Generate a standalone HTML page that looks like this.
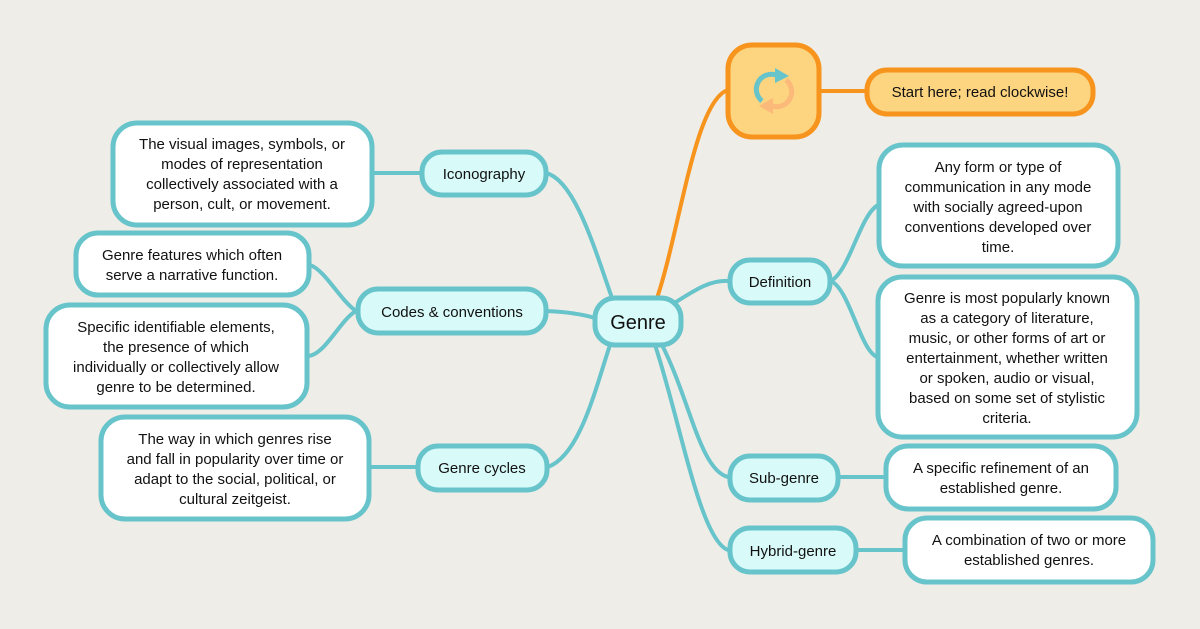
<!DOCTYPE html>
<html><head><meta charset="utf-8"><style>
html,body{margin:0;padding:0;background:#efede7;}
svg{display:block;}
text{font-family:"Liberation Sans",sans-serif;fill:#111;text-anchor:middle;}
</style></head><body>
<svg width="1200" height="629" viewBox="0 0 1200 629" xmlns="http://www.w3.org/2000/svg">
<rect width="1200" height="629" fill="#efede7"/>
<g fill="none" stroke="#68c4cb" stroke-width="4" stroke-linecap="round">
<path d="M546,173 C575,180 595,250 612,298"/>
<path d="M546,311 C570,312 585,315 595,318"/>
<path d="M548,467 C580,455 595,390 610,345"/>
<path d="M676,302 C695,290 710,280 728,281"/>
<path d="M662,345 C690,400 700,470 728,477"/>
<path d="M655,345 C680,420 700,540 728,550"/>
<path d="M831,281 C850,270 860,215 878,205"/>
<path d="M831,281 C850,290 860,350 877,357"/>
<path d="M839,477 L885,477"/>
<path d="M857,550 L904,550"/>
<path d="M373,173 L421,173"/>
<path d="M356,311 C340,300 325,270 310,265"/>
<path d="M356,311 C340,320 325,355 308,356"/>
<path d="M370,467 L417,467"/>
</g>
<g fill="none" stroke="#f7941d" stroke-width="4" stroke-linecap="round">
<path d="M657,298 C680,230 695,100 728,90"/>
<path d="M819,91 L865,91"/>
</g>
<rect x="728" y="45" width="91" height="92" rx="24" fill="#fdd47f" stroke="#f7941d" stroke-width="5"/>
<rect x="867" y="70" width="226" height="44" rx="20" fill="#fdd47f" stroke="#f7941d" stroke-width="5"/>
<text x="980" y="97" font-size="15">Start here; read clockwise!</text>
<g fill="none" stroke-width="5">
<path d="M762,101 A15,15 0 0 1 776,75" stroke="#68c4cb"/>
<path d="M786,80 A15,15 0 0 1 772,106" stroke="#fbb97a"/>
</g>
<polygon points="775,68 789,76 775,83" fill="#68c4cb"/>
<polygon points="773,98 759,106 773,114" fill="#fbb97a"/>
<g fill="#d8faf8" stroke="#68c4cb" stroke-width="5">
<rect x="595" y="298" width="86" height="47" rx="20"/>
<rect x="422" y="152" width="124" height="43" rx="20"/>
<rect x="358" y="289" width="188" height="44" rx="20"/>
<rect x="418" y="446" width="129" height="44" rx="20"/>
<rect x="730" y="260" width="100" height="43" rx="20"/>
<rect x="730" y="456" width="108" height="44" rx="20"/>
<rect x="730" y="528" width="126" height="44" rx="20"/>
</g>
<text x="638" y="329" font-size="20">Genre</text>
<text x="484" y="179" font-size="15">Iconography</text>
<text x="452" y="317" font-size="15">Codes &amp; conventions</text>
<text x="482" y="473" font-size="15">Genre cycles</text>
<text x="780" y="287" font-size="15">Definition</text>
<text x="784" y="483" font-size="15">Sub-genre</text>
<text x="793" y="556" font-size="15">Hybrid-genre</text>
<g fill="#ffffff" stroke="#68c4cb" stroke-width="5">
<rect x="113" y="123" width="259" height="102" rx="24"/>
<rect x="76" y="233" width="233" height="62" rx="22"/>
<rect x="46" y="305" width="261" height="102" rx="24"/>
<rect x="101" y="417" width="268" height="102" rx="24"/>
<rect x="879" y="145" width="239" height="121" rx="24"/>
<rect x="878" y="277" width="259" height="160" rx="24"/>
<rect x="886" y="446" width="230" height="63" rx="22"/>
<rect x="905" y="518" width="248" height="64" rx="22"/>
</g>
<g font-size="15">
<text x="242" y="149">The visual images, symbols, or</text>
<text x="242" y="169">modes of representation</text>
<text x="242" y="189">collectively associated with a</text>
<text x="242" y="209">person, cult, or movement.</text>
<text x="192" y="260">Genre features which often</text>
<text x="192" y="280">serve a narrative function.</text>
<text x="176" y="332">Specific identifiable elements,</text>
<text x="176" y="352">the presence of which</text>
<text x="176" y="372">individually or collectively allow</text>
<text x="176" y="392">genre to be determined.</text>
<text x="235" y="444">The way in which genres rise</text>
<text x="235" y="464">and fall in popularity over time or</text>
<text x="235" y="484">adapt to the social, political, or</text>
<text x="235" y="504">cultural zeitgeist.</text>
<text x="998" y="172">Any form or type of</text>
<text x="998" y="192">communication in any mode</text>
<text x="998" y="212">with socially agreed-upon</text>
<text x="998" y="232">conventions developed over</text>
<text x="998" y="252">time.</text>
<text x="1007" y="303">Genre is most popularly known</text>
<text x="1007" y="323">as a category of literature,</text>
<text x="1007" y="343">music, or other forms of art or</text>
<text x="1007" y="363">entertainment, whether written</text>
<text x="1007" y="383">or spoken, audio or visual,</text>
<text x="1007" y="403">based on some set of stylistic</text>
<text x="1007" y="423">criteria.</text>
<text x="1001" y="473">A specific refinement of an</text>
<text x="1001" y="493">established genre.</text>
<text x="1029" y="545">A combination of two or more</text>
<text x="1029" y="565">established genres.</text>
</g>
</svg>
</body></html>
